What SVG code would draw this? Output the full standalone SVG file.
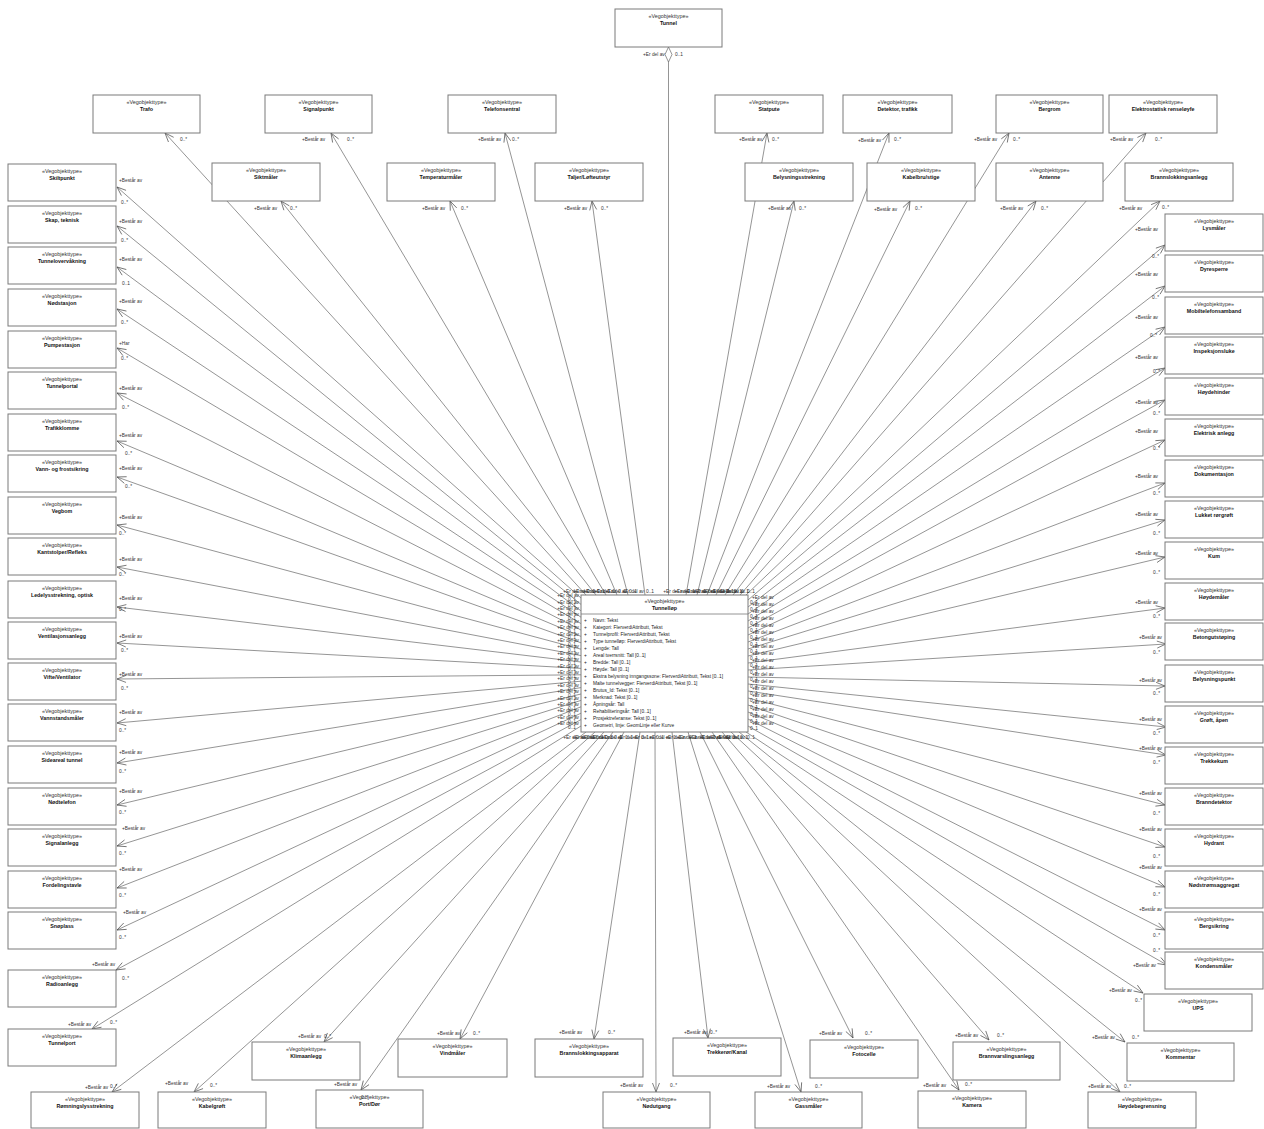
<svg xmlns="http://www.w3.org/2000/svg" width="1264" height="1129" viewBox="0 0 1264 1129">
<defs>
<style>
.b{fill:#fff;stroke:#7a7a7a;stroke-width:1}
.s,.n,.a,.l{font-family:"Liberation Sans",Arial,sans-serif}
.s{font-size:5.4px;fill:#333;text-anchor:middle}
.n{font-size:5.3px;fill:#111;font-weight:bold;text-anchor:middle}
.a{font-size:4.8px;fill:#222}
.l{font-size:4.8px;fill:#333}
.e{text-anchor:end}
.c{stroke:#4d4d4d;stroke-width:0.6;fill:none;marker-end:url(#ah)}
.d{stroke:#4d4d4d;stroke-width:0.6;fill:none}
.dv{stroke:#7a7a7a;stroke-width:0.8}
</style>
<marker id="ah" viewBox="-10 -5 11 10" refX="0" refY="0" markerWidth="11" markerHeight="10" markerUnits="userSpaceOnUse" orient="auto">
<path d="M-9,-3.5 L0,0 L-9,3.5" fill="none" stroke="#4d4d4d" stroke-width="0.7"/>
</marker>
</defs>
<rect width="1264" height="1129" fill="#fff"/>

<g id="connectors">
<line class="d" x1="668.5" y1="62" x2="668.5" y2="595"/>
<polygon points="668.5,47 672,54.5 668.5,62 665,54.5" fill="#fff" stroke="#4d4d4d" stroke-width="0.6"/>
<!-- top -->
<line class="c" x1="586" y1="595" x2="165" y2="133"/>
<line class="c" x1="596" y1="595" x2="281" y2="201"/>
<line class="c" x1="606" y1="595" x2="331" y2="133"/>
<line class="c" x1="617" y1="595" x2="450" y2="201"/>
<line class="c" x1="628" y1="595" x2="505" y2="133"/>
<line class="c" x1="645" y1="595" x2="592" y2="201"/>
<line class="c" x1="686" y1="595" x2="767" y2="133"/>
<line class="c" x1="697" y1="595" x2="794" y2="201"/>
<line class="c" x1="707" y1="595" x2="889" y2="133"/>
<line class="c" x1="716" y1="595" x2="910" y2="201"/>
<line class="c" x1="725" y1="595" x2="1009" y2="133"/>
<line class="c" x1="733" y1="595" x2="1036" y2="201"/>
<line class="c" x1="740" y1="595" x2="1146" y2="133"/>
<line class="c" x1="746" y1="595" x2="1160" y2="201"/>
<!-- left -->
<line class="c" x1="581" y1="598" x2="117" y2="187"/>
<line class="c" x1="581" y1="604.4" x2="117" y2="226"/>
<line class="c" x1="581" y1="610.8" x2="117" y2="267"/>
<line class="c" x1="581" y1="617.2" x2="117" y2="309"/>
<line class="c" x1="581" y1="623.6" x2="117" y2="348"/>
<line class="c" x1="581" y1="630" x2="117" y2="393"/>
<line class="c" x1="581" y1="636.4" x2="117" y2="441"/>
<line class="c" x1="581" y1="642.8" x2="117" y2="477"/>
<line class="c" x1="581" y1="649.2" x2="117" y2="525"/>
<line class="c" x1="581" y1="655.6" x2="117" y2="567"/>
<line class="c" x1="581" y1="662" x2="117" y2="607"/>
<line class="c" x1="581" y1="668.4" x2="117" y2="643"/>
<line class="c" x1="581" y1="674.8" x2="117" y2="679"/>
<line class="c" x1="581" y1="681.2" x2="117" y2="723"/>
<line class="c" x1="581" y1="687.6" x2="117" y2="763"/>
<line class="c" x1="581" y1="694" x2="117" y2="805"/>
<line class="c" x1="581" y1="700.4" x2="117" y2="846"/>
<line class="c" x1="581" y1="706.8" x2="117" y2="888"/>
<line class="c" x1="581" y1="713.2" x2="117" y2="930"/>
<line class="c" x1="581" y1="719.6" x2="116" y2="970"/>
<line class="c" x1="581" y1="726" x2="92" y2="1029"/>
<!-- right -->
<line class="c" x1="748" y1="600" x2="1165" y2="245"/>
<line class="c" x1="748" y1="607" x2="1165" y2="286"/>
<line class="c" x1="748" y1="614" x2="1165" y2="327"/>
<line class="c" x1="748" y1="621" x2="1165" y2="368"/>
<line class="c" x1="748" y1="628" x2="1165" y2="400"/>
<line class="c" x1="748" y1="635" x2="1165" y2="440"/>
<line class="c" x1="748" y1="642" x2="1165" y2="483"/>
<line class="c" x1="748" y1="649" x2="1165" y2="520"/>
<line class="c" x1="748" y1="656" x2="1165" y2="557"/>
<line class="c" x1="748" y1="663" x2="1165" y2="608"/>
<line class="c" x1="748" y1="670" x2="1166" y2="644"/>
<line class="c" x1="748" y1="677" x2="1165" y2="686"/>
<line class="c" x1="748" y1="684" x2="1166" y2="727"/>
<line class="c" x1="748" y1="691" x2="1166" y2="755"/>
<line class="c" x1="748" y1="698" x2="1165" y2="805"/>
<line class="c" x1="748" y1="705" x2="1165" y2="847"/>
<line class="c" x1="748" y1="712" x2="1165" y2="887"/>
<line class="c" x1="748" y1="719" x2="1165" y2="930"/>
<line class="c" x1="748" y1="726" x2="1167" y2="965"/>
<!-- bottom -->
<line class="c" x1="586" y1="732" x2="112" y2="1092"/>
<line class="c" x1="595" y1="732" x2="194" y2="1092"/>
<line class="c" x1="604" y1="732" x2="324" y2="1042"/>
<line class="c" x1="613" y1="732" x2="361" y2="1090"/>
<line class="c" x1="624" y1="732" x2="460" y2="1039"/>
<line class="c" x1="640" y1="732" x2="594" y2="1039"/>
<line class="c" x1="655" y1="732" x2="656" y2="1092"/>
<line class="c" x1="672" y1="732" x2="708" y2="1038"/>
<line class="c" x1="688" y1="732" x2="801" y2="1092"/>
<line class="c" x1="700" y1="732" x2="853" y2="1038"/>
<line class="c" x1="712" y1="732" x2="959" y2="1090"/>
<line class="c" x1="722" y1="732" x2="989" y2="1040"/>
<line class="c" x1="731" y1="732" x2="1120" y2="1092"/>
<line class="c" x1="739" y1="732" x2="1125" y2="1042"/>
<line class="c" x1="746" y1="732" x2="1143" y2="993"/>
</g>

<g id="nodes">
<g id="n-tunnel"><rect class="b" x="615" y="9" width="107" height="38"/><text class="s" x="668.5" y="18">«Vegobjekttype»</text><text class="n" x="668.5" y="25">Tunnel</text></g>
<g id="n-tunnellop"><rect class="b" x="581" y="595" width="167" height="137"/><text class="s" x="664.5" y="603">«Vegobjekttype»</text><text class="n" x="664.5" y="610">Tunnelløp</text><line class="dv" x1="581" y1="614" x2="748" y2="614"/>
<text class="a" x="584" y="622">+</text><text class="a" x="593" y="622">Navn: Tekst</text>
<text class="a" x="584" y="629">+</text><text class="a" x="593" y="629">Kategori: FlerverdiAttributt, Tekst</text>
<text class="a" x="584" y="636">+</text><text class="a" x="593" y="636">Tunnelprofil: FlerverdiAttributt, Tekst</text>
<text class="a" x="584" y="643">+</text><text class="a" x="593" y="643">Type tunnelløp: FlerverdiAttributt, Tekst</text>
<text class="a" x="584" y="650">+</text><text class="a" x="593" y="650">Lengde: Tall</text>
<text class="a" x="584" y="657">+</text><text class="a" x="593" y="657">Areal tverrsnitt: Tall [0..1]</text>
<text class="a" x="584" y="664">+</text><text class="a" x="593" y="664">Bredde: Tall [0..1]</text>
<text class="a" x="584" y="671">+</text><text class="a" x="593" y="671">Høyde: Tall [0..1]</text>
<text class="a" x="584" y="678">+</text><text class="a" x="593" y="678">Ekstra belysning inngangssone: FlerverdiAttributt, Tekst [0..1]</text>
<text class="a" x="584" y="685">+</text><text class="a" x="593" y="685">Malte tunnelvegger: FlerverdiAttributt, Tekst [0..1]</text>
<text class="a" x="584" y="692">+</text><text class="a" x="593" y="692">Brutus_Id: Tekst [0..1]</text>
<text class="a" x="584" y="699">+</text><text class="a" x="593" y="699">Merknad: Tekst [0..1]</text>
<text class="a" x="584" y="706">+</text><text class="a" x="593" y="706">Åpningsår: Tall</text>
<text class="a" x="584" y="713">+</text><text class="a" x="593" y="713">Rehabiliteringsår: Tall [0..1]</text>
<text class="a" x="584" y="720">+</text><text class="a" x="593" y="720">Prosjektreferanse: Tekst [0..1]</text>
<text class="a" x="584" y="727">+</text><text class="a" x="593" y="727">Geometri, linje: GeomLinje eller Kurve</text>
</g>
<!-- top row -->
<g id="n-trafo"><rect class="b" x="93" y="95" width="107" height="38"/><text class="s" x="146.5" y="104">«Vegobjekttype»</text><text class="n" x="146.5" y="111">Trafo</text></g>
<g id="n-signalpunkt"><rect class="b" x="265" y="95" width="107" height="38"/><text class="s" x="318.5" y="104">«Vegobjekttype»</text><text class="n" x="318.5" y="111">Signalpunkt</text></g>
<g id="n-telefonsentral"><rect class="b" x="448" y="95" width="108" height="38"/><text class="s" x="502" y="104">«Vegobjekttype»</text><text class="n" x="502" y="111">Telefonsentral</text></g>
<g id="n-statpute"><rect class="b" x="715" y="95" width="108" height="38"/><text class="s" x="769" y="104">«Vegobjekttype»</text><text class="n" x="769" y="111">Statpute</text></g>
<g id="n-detektor"><rect class="b" x="843" y="95" width="109" height="38"/><text class="s" x="897.5" y="104">«Vegobjekttype»</text><text class="n" x="897.5" y="111">Detektor, trafikk</text></g>
<g id="n-bergrom"><rect class="b" x="996" y="95" width="107" height="38"/><text class="s" x="1049.5" y="104">«Vegobjekttype»</text><text class="n" x="1049.5" y="111">Bergrom</text></g>
<g id="n-elektrostatisk"><rect class="b" x="1109" y="95" width="108" height="38"/><text class="s" x="1163" y="104">«Vegobjekttype»</text><text class="n" x="1163" y="111">Elektrostatisk renseløyfe</text></g>
<!-- second row -->
<g id="n-siktmaler"><rect class="b" x="212" y="163" width="108" height="38"/><text class="s" x="266" y="172">«Vegobjekttype»</text><text class="n" x="266" y="179">Siktmåler</text></g>
<g id="n-temperaturmaler"><rect class="b" x="387" y="163" width="108" height="38"/><text class="s" x="441" y="172">«Vegobjekttype»</text><text class="n" x="441" y="179">Temperaturmåler</text></g>
<g id="n-taljer"><rect class="b" x="535" y="163" width="108" height="38"/><text class="s" x="589" y="172">«Vegobjekttype»</text><text class="n" x="589" y="179">Taljer/Løfteutstyr</text></g>
<g id="n-belysningsstrekning"><rect class="b" x="745" y="163" width="108" height="38"/><text class="s" x="799" y="172">«Vegobjekttype»</text><text class="n" x="799" y="179">Belysningsstrekning</text></g>
<g id="n-kabelbru"><rect class="b" x="867" y="163" width="108" height="38"/><text class="s" x="921" y="172">«Vegobjekttype»</text><text class="n" x="921" y="179">Kabelbru/stige</text></g>
<g id="n-antenne"><rect class="b" x="996" y="163" width="107" height="38"/><text class="s" x="1049.5" y="172">«Vegobjekttype»</text><text class="n" x="1049.5" y="179">Antenne</text></g>
<g id="n-brannslokkingsanlegg"><rect class="b" x="1125" y="163" width="108" height="38"/><text class="s" x="1179" y="172">«Vegobjekttype»</text><text class="n" x="1179" y="179">Brannslokkingsanlegg</text></g>
<!-- left column -->
<g id="n-skiltpunkt"><rect class="b" x="8" y="164" width="108" height="37"/><text class="s" x="62" y="173">«Vegobjekttype»</text><text class="n" x="62" y="180">Skiltpunkt</text></g>
<g id="n-skap"><rect class="b" x="8" y="206" width="108" height="37"/><text class="s" x="62" y="215">«Vegobjekttype»</text><text class="n" x="62" y="222">Skap, teknisk</text></g>
<g id="n-tunnelovervakning"><rect class="b" x="8" y="247" width="108" height="37"/><text class="s" x="62" y="256">«Vegobjekttype»</text><text class="n" x="62" y="263">Tunnelovervåkning</text></g>
<g id="n-nodstasjon"><rect class="b" x="8" y="289" width="108" height="37"/><text class="s" x="62" y="298">«Vegobjekttype»</text><text class="n" x="62" y="305">Nødstasjon</text></g>
<g id="n-pumpestasjon"><rect class="b" x="8" y="331" width="108" height="37"/><text class="s" x="62" y="340">«Vegobjekttype»</text><text class="n" x="62" y="347">Pumpestasjon</text></g>
<g id="n-tunnelportal"><rect class="b" x="8" y="372" width="108" height="37"/><text class="s" x="62" y="381">«Vegobjekttype»</text><text class="n" x="62" y="388">Tunnelportal</text></g>
<g id="n-trafikklomme"><rect class="b" x="8" y="414" width="108" height="37"/><text class="s" x="62" y="423">«Vegobjekttype»</text><text class="n" x="62" y="430">Trafikklomme</text></g>
<g id="n-vann"><rect class="b" x="8" y="455" width="108" height="37"/><text class="s" x="62" y="464">«Vegobjekttype»</text><text class="n" x="62" y="471">Vann- og frostsikring</text></g>
<g id="n-vegbom"><rect class="b" x="8" y="497" width="108" height="37"/><text class="s" x="62" y="506">«Vegobjekttype»</text><text class="n" x="62" y="513">Vegbom</text></g>
<g id="n-kantstolper"><rect class="b" x="8" y="538" width="108" height="37"/><text class="s" x="62" y="547">«Vegobjekttype»</text><text class="n" x="62" y="554">Kantstolper/Refleks</text></g>
<g id="n-ledelys"><rect class="b" x="8" y="581" width="108" height="37"/><text class="s" x="62" y="590">«Vegobjekttype»</text><text class="n" x="62" y="597">Ledelysstrekning, optisk</text></g>
<g id="n-ventilasjonsanlegg"><rect class="b" x="8" y="622" width="108" height="37"/><text class="s" x="62" y="631">«Vegobjekttype»</text><text class="n" x="62" y="638">Ventilasjonsanlegg</text></g>
<g id="n-vifte"><rect class="b" x="8" y="663" width="108" height="37"/><text class="s" x="62" y="672">«Vegobjekttype»</text><text class="n" x="62" y="679">Vifte/Ventilator</text></g>
<g id="n-vannstandsmaler"><rect class="b" x="8" y="704" width="108" height="37"/><text class="s" x="62" y="713">«Vegobjekttype»</text><text class="n" x="62" y="720">Vannstandsmåler</text></g>
<g id="n-sideareal"><rect class="b" x="8" y="746" width="108" height="37"/><text class="s" x="62" y="755">«Vegobjekttype»</text><text class="n" x="62" y="762">Sideareal tunnel</text></g>
<g id="n-nodtelefon"><rect class="b" x="8" y="788" width="108" height="37"/><text class="s" x="62" y="797">«Vegobjekttype»</text><text class="n" x="62" y="804">Nødtelefon</text></g>
<g id="n-signalanlegg"><rect class="b" x="8" y="829" width="108" height="37"/><text class="s" x="62" y="838">«Vegobjekttype»</text><text class="n" x="62" y="845">Signalanlegg</text></g>
<g id="n-fordelingstavle"><rect class="b" x="8" y="871" width="108" height="37"/><text class="s" x="62" y="880">«Vegobjekttype»</text><text class="n" x="62" y="887">Fordelingstavle</text></g>
<g id="n-snoplass"><rect class="b" x="8" y="912" width="108" height="37"/><text class="s" x="62" y="921">«Vegobjekttype»</text><text class="n" x="62" y="928">Snøplass</text></g>
<g id="n-radioanlegg"><rect class="b" x="8" y="970" width="108" height="37"/><text class="s" x="62" y="979">«Vegobjekttype»</text><text class="n" x="62" y="986">Radioanlegg</text></g>
<g id="n-tunnelport"><rect class="b" x="8" y="1029" width="108" height="37"/><text class="s" x="62" y="1038">«Vegobjekttype»</text><text class="n" x="62" y="1045">Tunnelport</text></g>
<!-- right column -->
<g id="n-lysmaler"><rect class="b" x="1165" y="214" width="98" height="37"/><text class="s" x="1214" y="223">«Vegobjekttype»</text><text class="n" x="1214" y="230">Lysmåler</text></g>
<g id="n-dyresperre"><rect class="b" x="1165" y="255" width="98" height="37"/><text class="s" x="1214" y="264">«Vegobjekttype»</text><text class="n" x="1214" y="271">Dyresperre</text></g>
<g id="n-mobiltelefonsamband"><rect class="b" x="1165" y="297" width="98" height="37"/><text class="s" x="1214" y="306">«Vegobjekttype»</text><text class="n" x="1214" y="313">Mobiltelefonsamband</text></g>
<g id="n-inspeksjonsluke"><rect class="b" x="1165" y="337" width="98" height="37"/><text class="s" x="1214" y="346">«Vegobjekttype»</text><text class="n" x="1214" y="353">Inspeksjonsluke</text></g>
<g id="n-hoydehinder"><rect class="b" x="1165" y="378" width="98" height="37"/><text class="s" x="1214" y="387">«Vegobjekttype»</text><text class="n" x="1214" y="394">Høydehinder</text></g>
<g id="n-elektrisk"><rect class="b" x="1165" y="419" width="98" height="37"/><text class="s" x="1214" y="428">«Vegobjekttype»</text><text class="n" x="1214" y="435">Elektrisk anlegg</text></g>
<g id="n-dokumentasjon"><rect class="b" x="1165" y="460" width="98" height="37"/><text class="s" x="1214" y="469">«Vegobjekttype»</text><text class="n" x="1214" y="476">Dokumentasjon</text></g>
<g id="n-lukket"><rect class="b" x="1165" y="501" width="98" height="37"/><text class="s" x="1214" y="510">«Vegobjekttype»</text><text class="n" x="1214" y="517">Lukket rørgrøft</text></g>
<g id="n-kum"><rect class="b" x="1165" y="542" width="98" height="37"/><text class="s" x="1214" y="551">«Vegobjekttype»</text><text class="n" x="1214" y="558">Kum</text></g>
<g id="n-hoydemaler"><rect class="b" x="1165" y="583" width="98" height="37"/><text class="s" x="1214" y="592">«Vegobjekttype»</text><text class="n" x="1214" y="599">Høydemåler</text></g>
<g id="n-betong"><rect class="b" x="1165" y="623" width="98" height="37"/><text class="s" x="1214" y="632">«Vegobjekttype»</text><text class="n" x="1214" y="639">Betongutstøping</text></g>
<g id="n-belysningspunkt"><rect class="b" x="1165" y="665" width="98" height="37"/><text class="s" x="1214" y="674">«Vegobjekttype»</text><text class="n" x="1214" y="681">Belysningspunkt</text></g>
<g id="n-groft"><rect class="b" x="1165" y="706" width="98" height="37"/><text class="s" x="1214" y="715">«Vegobjekttype»</text><text class="n" x="1214" y="722">Grøft, åpen</text></g>
<g id="n-trekkekum"><rect class="b" x="1165" y="747" width="98" height="37"/><text class="s" x="1214" y="756">«Vegobjekttype»</text><text class="n" x="1214" y="763">Trekkekum</text></g>
<g id="n-branndetektor"><rect class="b" x="1165" y="788" width="98" height="37"/><text class="s" x="1214" y="797">«Vegobjekttype»</text><text class="n" x="1214" y="804">Branndetektor</text></g>
<g id="n-hydrant"><rect class="b" x="1165" y="829" width="98" height="37"/><text class="s" x="1214" y="838">«Vegobjekttype»</text><text class="n" x="1214" y="845">Hydrant</text></g>
<g id="n-nodstrom"><rect class="b" x="1165" y="871" width="98" height="37"/><text class="s" x="1214" y="880">«Vegobjekttype»</text><text class="n" x="1214" y="887">Nødstrømsaggregat</text></g>
<g id="n-bergsikring"><rect class="b" x="1165" y="912" width="98" height="37"/><text class="s" x="1214" y="921">«Vegobjekttype»</text><text class="n" x="1214" y="928">Bergsikring</text></g>
<g id="n-kondensmaler"><rect class="b" x="1165" y="952" width="98" height="37"/><text class="s" x="1214" y="961">«Vegobjekttype»</text><text class="n" x="1214" y="968">Kondensmåler</text></g>
<g id="n-ups"><rect class="b" x="1144" y="994" width="108" height="37"/><text class="s" x="1198" y="1003">«Vegobjekttype»</text><text class="n" x="1198" y="1010">UPS</text></g>
<g id="n-kommentar"><rect class="b" x="1127" y="1043" width="107" height="38"/><text class="s" x="1180.5" y="1052">«Vegobjekttype»</text><text class="n" x="1180.5" y="1059">Kommentar</text></g>
<!-- bottom rows -->
<g id="n-klimaanlegg"><rect class="b" x="252" y="1042" width="108" height="38"/><text class="s" x="306" y="1051">«Vegobjekttype»</text><text class="n" x="306" y="1058">Klimaanlegg</text></g>
<g id="n-vindmaler"><rect class="b" x="398" y="1039" width="109" height="38"/><text class="s" x="452.5" y="1048">«Vegobjekttype»</text><text class="n" x="452.5" y="1055">Vindmåler</text></g>
<g id="n-brannslokkingsapparat"><rect class="b" x="535" y="1039" width="108" height="38"/><text class="s" x="589" y="1048">«Vegobjekttype»</text><text class="n" x="589" y="1055">Brannslokkingsapparat</text></g>
<g id="n-trekkeror"><rect class="b" x="673" y="1038" width="108" height="38"/><text class="s" x="727" y="1047">«Vegobjekttype»</text><text class="n" x="727" y="1054">Trekkerør/Kanal</text></g>
<g id="n-fotocelle"><rect class="b" x="810" y="1040" width="108" height="38"/><text class="s" x="864" y="1049">«Vegobjekttype»</text><text class="n" x="864" y="1056">Fotocelle</text></g>
<g id="n-brannvarsling"><rect class="b" x="953" y="1042" width="107" height="38"/><text class="s" x="1006.5" y="1051">«Vegobjekttype»</text><text class="n" x="1006.5" y="1058">Brannvarslingsanlegg</text></g>
<g id="n-romningslys"><rect class="b" x="31" y="1092" width="108" height="36"/><text class="s" x="85" y="1101">«Vegobjekttype»</text><text class="n" x="85" y="1108">Rømningslysstrekning</text></g>
<g id="n-kabelgroft"><rect class="b" x="158" y="1092" width="108" height="36"/><text class="s" x="212" y="1101">«Vegobjekttype»</text><text class="n" x="212" y="1108">Kabelgrøft</text></g>
<g id="n-portdor"><rect class="b" x="316" y="1090" width="107" height="38"/><text class="s" x="369.5" y="1099">«Vegobjekttype»</text><text class="n" x="369.5" y="1106">Port/Dør</text></g>
<g id="n-nodutgang"><rect class="b" x="603" y="1092" width="107" height="36"/><text class="s" x="656.5" y="1101">«Vegobjekttype»</text><text class="n" x="656.5" y="1108">Nødutgang</text></g>
<g id="n-gassmaler"><rect class="b" x="755" y="1092" width="107" height="36"/><text class="s" x="808.5" y="1101">«Vegobjekttype»</text><text class="n" x="808.5" y="1108">Gassmåler</text></g>
<g id="n-kamera"><rect class="b" x="918" y="1091" width="108" height="37"/><text class="s" x="972" y="1100">«Vegobjekttype»</text><text class="n" x="972" y="1107">Kamera</text></g>
<g id="n-hoydebegrensning"><rect class="b" x="1088" y="1092" width="108" height="36"/><text class="s" x="1142" y="1101">«Vegobjekttype»</text><text class="n" x="1142" y="1108">Høydebegrensning</text></g>
</g>

<g id="role-labels">
<!-- Tunnel aggregation -->
<text class="l" x="643" y="56">+Er del av</text><text class="l" x="675" y="56">0..1</text>
<!-- node-end labels: top rows -->
<text class="l" x="180" y="141">0..*</text>
<text class="l" x="302" y="141">+Består av</text><text class="l" x="347" y="141">0..*</text>
<text class="l" x="478" y="141">+Består av</text><text class="l" x="512" y="141">0..*</text>
<text class="l" x="739" y="141">+Består av</text><text class="l" x="772" y="141">0..*</text>
<text class="l" x="858" y="142">+Består av</text><text class="l" x="894" y="141">0..*</text>
<text class="l" x="974" y="141">+Består av</text><text class="l" x="1013" y="141">0..*</text>
<text class="l" x="1110" y="141">+Består av</text><text class="l" x="1155" y="141">0..*</text>
<text class="l" x="254" y="210">+Består av</text><text class="l" x="290" y="210">0..*</text>
<text class="l" x="422" y="210">+Består av</text><text class="l" x="461" y="210">0..*</text>
<text class="l" x="564" y="210">+Består av</text><text class="l" x="601" y="210">0..*</text>
<text class="l" x="768" y="210">+Består av</text><text class="l" x="799" y="210">0..*</text>
<text class="l" x="874" y="211">+Består av</text><text class="l" x="915" y="210">0..*</text>
<text class="l" x="1000" y="210">+Består av</text><text class="l" x="1041" y="210">0..*</text>
<text class="l" x="1119" y="210">+Består av</text><text class="l" x="1162" y="209">0..*</text>
<!-- left column -->
<text class="l" x="119" y="182">+Består av</text><text class="l" x="121" y="204">0..*</text>
<text class="l" x="119" y="223">+Består av</text><text class="l" x="121" y="242">0..*</text>
<text class="l" x="119" y="261">+Består av</text><text class="l" x="122" y="285">0..1</text>
<text class="l" x="119" y="303">+Består av</text><text class="l" x="121" y="324">0..*</text>
<text class="l" x="119" y="345">+Har</text><text class="l" x="121" y="360">0..*</text>
<text class="l" x="119" y="390">+Består av</text><text class="l" x="122" y="409">0..*</text>
<text class="l" x="119" y="437">+Består av</text><text class="l" x="125" y="455">0..*</text>
<text class="l" x="119" y="470">+Består av</text><text class="l" x="125" y="488">0..*</text>
<text class="l" x="119" y="519">+Består av</text><text class="l" x="119" y="535">0..*</text>
<text class="l" x="119" y="561">+Består av</text><text class="l" x="119" y="576">0..*</text>
<text class="l" x="119" y="600">+Består av</text><text class="l" x="119" y="611">0..*</text>
<text class="l" x="119" y="638">+Består av</text><text class="l" x="121" y="652">0..*</text>
<text class="l" x="119" y="676">+Består av</text><text class="l" x="121" y="690">0..*</text>
<text class="l" x="119" y="714">+Består av</text><text class="l" x="119" y="732">0..*</text>
<text class="l" x="119" y="754">+Består av</text><text class="l" x="119" y="773">0..*</text>
<text class="l" x="119" y="793">+Består av</text><text class="l" x="119" y="814">0..*</text>
<text class="l" x="122" y="830">+Består av</text><text class="l" x="119" y="855">0..*</text>
<text class="l" x="119" y="871">+Består av</text><text class="l" x="119" y="897">0..*</text>
<text class="l" x="123" y="914">+Består av</text><text class="l" x="119" y="939">0..*</text>
<text class="l" x="92" y="966">+Består av</text><text class="l" x="122" y="980">0..*</text>
<text class="l" x="68" y="1026">+Består av</text><text class="l" x="110" y="1024">0..*</text>
<!-- right column -->
<text class="l e" x="1158" y="231">+Består av</text><text class="l" x="1152" y="258">0..*</text>
<text class="l e" x="1158" y="276">+Består av</text><text class="l" x="1152" y="299">0..*</text>
<text class="l e" x="1158" y="319">+Består av</text><text class="l" x="1150" y="337">0..*</text>
<text class="l e" x="1158" y="359">+Består av</text><text class="l" x="1153" y="373">0..*</text>
<text class="l e" x="1158" y="404">+Består av</text><text class="l" x="1153" y="415">0..*</text>
<text class="l e" x="1158" y="433">+Består av</text><text class="l" x="1153" y="450">0..*</text>
<text class="l e" x="1158" y="478">+Består av</text><text class="l" x="1153" y="495">0..*</text>
<text class="l e" x="1158" y="516">+Består av</text><text class="l" x="1153" y="535">0..*</text>
<text class="l e" x="1158" y="555">+Består av</text><text class="l" x="1153" y="574">0..*</text>
<text class="l e" x="1158" y="604">+Består av</text><text class="l" x="1153" y="618">0..*</text>
<text class="l e" x="1162" y="639">+Består av</text><text class="l" x="1153" y="654">0..*</text>
<text class="l e" x="1162" y="682">+Består av</text><text class="l" x="1153" y="695">0..*</text>
<text class="l e" x="1162" y="721">+Består av</text><text class="l" x="1153" y="735">0..*</text>
<text class="l e" x="1162" y="750">+Består av</text><text class="l" x="1153" y="764">0..*</text>
<text class="l e" x="1162" y="795">+Består av</text><text class="l" x="1153" y="815">0..*</text>
<text class="l e" x="1162" y="831">+Består av</text><text class="l" x="1153" y="858">0..*</text>
<text class="l e" x="1162" y="869">+Består av</text><text class="l" x="1153" y="896">0..*</text>
<text class="l e" x="1162" y="911">+Består av</text><text class="l" x="1153" y="937">0..*</text>
<text class="l e" x="1156" y="967">+Består av</text><text class="l" x="1153" y="952">0..*</text>
<text class="l e" x="1132" y="992">+Består av</text><text class="l" x="1135" y="1002">0..*</text>
<text class="l e" x="1115" y="1039">+Består av</text><text class="l" x="1132" y="1039">0..*</text>
<!-- bottom rows -->
<text class="l" x="298" y="1038">+Består av</text><text class="l" x="324" y="1038">0..*</text>
<text class="l" x="437" y="1035">+Består av</text><text class="l" x="473" y="1035">0..*</text>
<text class="l" x="559" y="1034">+Består av</text><text class="l" x="608" y="1034">0..*</text>
<text class="l" x="684" y="1034">+Består av</text><text class="l" x="710" y="1034">0..*</text>
<text class="l" x="819" y="1035">+Består av</text><text class="l" x="865" y="1035">0..*</text>
<text class="l" x="955" y="1037">+Består av</text><text class="l" x="997" y="1037">0..*</text>
<text class="l" x="85" y="1089">+Består av</text><text class="l" x="110" y="1088">0..*</text>
<text class="l" x="165" y="1085">+Består av</text><text class="l" x="210" y="1087">0..*</text>
<text class="l" x="334" y="1086">+Består av</text><text class="l" x="361" y="1099">0..*</text>
<text class="l" x="620" y="1087">+Består av</text><text class="l" x="670" y="1087">0..*</text>
<text class="l" x="767" y="1088">+Består av</text><text class="l" x="815" y="1088">0..*</text>
<text class="l" x="923" y="1087">+Består av</text><text class="l" x="965" y="1086">0..*</text>
<text class="l" x="1088" y="1088">+Består av</text><text class="l" x="1124" y="1088">0..*</text>
<!-- Tunnelløp-end labels: top edge -->
<text class="l e" x="585" y="592.5">+Er del av</text><text class="l" x="587" y="592.5">0..1</text>
<text class="l e" x="595" y="592.5">+Er del av</text><text class="l" x="597" y="592.5">0..1</text>
<text class="l e" x="605" y="592.5">+Er del av</text><text class="l" x="607" y="592.5">0..1</text>
<text class="l e" x="616" y="592.5">+Er del av</text><text class="l" x="618" y="592.5">0..1</text>
<text class="l e" x="627" y="592.5">+Er del av</text><text class="l" x="629" y="592.5">0..1</text>
<text class="l e" x="644" y="592.5">+Er del av</text><text class="l" x="646" y="592.5">0..1</text>
<text class="l e" x="685" y="592.5">+Er del av</text><text class="l" x="687" y="592.5">0..1</text>
<text class="l e" x="696" y="592.5">+Er del av</text><text class="l" x="698" y="592.5">0..1</text>
<text class="l e" x="706" y="592.5">+Er del av</text><text class="l" x="708" y="592.5">0..1</text>
<text class="l e" x="715" y="592.5">+Er del av</text><text class="l" x="717" y="592.5">0..1</text>
<text class="l e" x="724" y="592.5">+Er del av</text><text class="l" x="726" y="592.5">0..1</text>
<text class="l e" x="732" y="592.5">+Er del av</text><text class="l" x="734" y="592.5">0..1</text>
<text class="l e" x="739" y="592.5">+Er del av</text><text class="l" x="741" y="592.5">0..1</text>
<text class="l e" x="745" y="592.5">+Er del av</text><text class="l" x="747" y="592.5">0..1</text>
<!-- left edge -->
<text class="l e" x="579" y="597.2">+Er del av</text><text class="l" x="568" y="601">0..1</text>
<text class="l e" x="579" y="603.6">+Er del av</text><text class="l" x="568" y="607.4">0..1</text>
<text class="l e" x="579" y="610">+Er del av</text><text class="l" x="568" y="613.8">0..1</text>
<text class="l e" x="579" y="616.4">+Er del av</text><text class="l" x="568" y="620.2">0..1</text>
<text class="l e" x="579" y="622.8">+Er del av</text><text class="l" x="568" y="626.6">0..1</text>
<text class="l e" x="579" y="629.2">+Er del av</text><text class="l" x="568" y="633">0..1</text>
<text class="l e" x="579" y="635.6">+Er del av</text><text class="l" x="568" y="639.4">0..1</text>
<text class="l e" x="579" y="642">+Er del av</text><text class="l" x="568" y="645.8">0..1</text>
<text class="l e" x="579" y="648.4">+Er del av</text><text class="l" x="568" y="652.2">0..1</text>
<text class="l e" x="579" y="654.8">+Er del av</text><text class="l" x="568" y="658.6">0..1</text>
<text class="l e" x="579" y="661.2">+Er del av</text><text class="l" x="568" y="665">0..1</text>
<text class="l e" x="579" y="667.6">+Er del av</text><text class="l" x="568" y="671.4">0..1</text>
<text class="l e" x="579" y="674">+Er del av</text><text class="l" x="568" y="677.8">0..1</text>
<text class="l e" x="579" y="680.4">+Er del av</text><text class="l" x="568" y="684.2">0..1</text>
<text class="l e" x="579" y="686.8">+Er del av</text><text class="l" x="568" y="690.6">0..1</text>
<text class="l e" x="579" y="693.2">+Er del av</text><text class="l" x="568" y="697">0..1</text>
<text class="l e" x="579" y="699.6">+Er del av</text><text class="l" x="568" y="703.4">0..1</text>
<text class="l e" x="579" y="706">+Er del av</text><text class="l" x="568" y="709.8">0..1</text>
<text class="l e" x="579" y="712.4">+Er del av</text><text class="l" x="568" y="716.2">0..1</text>
<text class="l e" x="579" y="718.8">+Er del av</text><text class="l" x="568" y="722.6">0..1</text>
<text class="l e" x="579" y="725.2">+Er del av</text><text class="l" x="568" y="729">0..1</text>
<!-- right edge -->
<text class="l" x="752" y="599">+Er del av</text><text class="l" x="750" y="603.5">0..1</text>
<text class="l" x="752" y="606">+Er del av</text><text class="l" x="750" y="610.5">0..1</text>
<text class="l" x="752" y="613">+Er del av</text><text class="l" x="750" y="617.5">0..1</text>
<text class="l" x="752" y="620">+Er del av</text><text class="l" x="750" y="624.5">0..1</text>
<text class="l" x="752" y="627">+Er del av</text><text class="l" x="750" y="631.5">0..1</text>
<text class="l" x="752" y="634">+Er del av</text><text class="l" x="750" y="638.5">0..1</text>
<text class="l" x="752" y="641">+Er del av</text><text class="l" x="750" y="645.5">0..1</text>
<text class="l" x="752" y="648">+Er del av</text><text class="l" x="750" y="652.5">0..1</text>
<text class="l" x="752" y="655">+Er del av</text><text class="l" x="750" y="659.5">0..1</text>
<text class="l" x="752" y="662">+Er del av</text><text class="l" x="750" y="666.5">0..1</text>
<text class="l" x="752" y="669">+Er del av</text><text class="l" x="750" y="673.5">0..1</text>
<text class="l" x="752" y="676">+Er del av</text><text class="l" x="750" y="680.5">0..1</text>
<text class="l" x="752" y="683">+Er del av</text><text class="l" x="750" y="687.5">0..1</text>
<text class="l" x="752" y="690">+Er del av</text><text class="l" x="750" y="694.5">0..1</text>
<text class="l" x="752" y="697">+Er del av</text><text class="l" x="750" y="701.5">0..1</text>
<text class="l" x="752" y="704">+Er del av</text><text class="l" x="750" y="708.5">0..1</text>
<text class="l" x="752" y="711">+Er del av</text><text class="l" x="750" y="715.5">0..1</text>
<text class="l" x="752" y="718">+Er del av</text><text class="l" x="750" y="722.5">0..1</text>
<text class="l" x="752" y="725">+Er del av</text><text class="l" x="750" y="729.5">0..1</text>
<!-- bottom edge -->
<text class="l e" x="585" y="739">+Er del av</text><text class="l" x="587" y="739">0..1</text>
<text class="l e" x="594" y="739">+Er del av</text><text class="l" x="596" y="739">0..1</text>
<text class="l e" x="603" y="739">+Er del av</text><text class="l" x="605" y="739">0..1</text>
<text class="l e" x="612" y="739">+Er del av</text><text class="l" x="614" y="739">0..1</text>
<text class="l e" x="623" y="739">+Er del av</text><text class="l" x="625" y="739">0..1</text>
<text class="l e" x="639" y="739">+Er del av</text><text class="l" x="641" y="739">0..1</text>
<text class="l e" x="654" y="739">+Er del av</text><text class="l" x="656" y="739">0..1</text>
<text class="l e" x="671" y="739">+Er del av</text><text class="l" x="673" y="739">0..1</text>
<text class="l e" x="687" y="739">+Er del av</text><text class="l" x="689" y="739">0..1</text>
<text class="l e" x="699" y="739">+Er del av</text><text class="l" x="701" y="739">0..1</text>
<text class="l e" x="711" y="739">+Er del av</text><text class="l" x="713" y="739">0..1</text>
<text class="l e" x="721" y="739">+Er del av</text><text class="l" x="723" y="739">0..1</text>
<text class="l e" x="730" y="739">+Er del av</text><text class="l" x="732" y="739">0..1</text>
<text class="l e" x="738" y="739">+Er del av</text><text class="l" x="740" y="739">0..1</text>
<text class="l e" x="745" y="739">+Er del av</text><text class="l" x="747" y="739">0..1</text>
</g>
</svg>
